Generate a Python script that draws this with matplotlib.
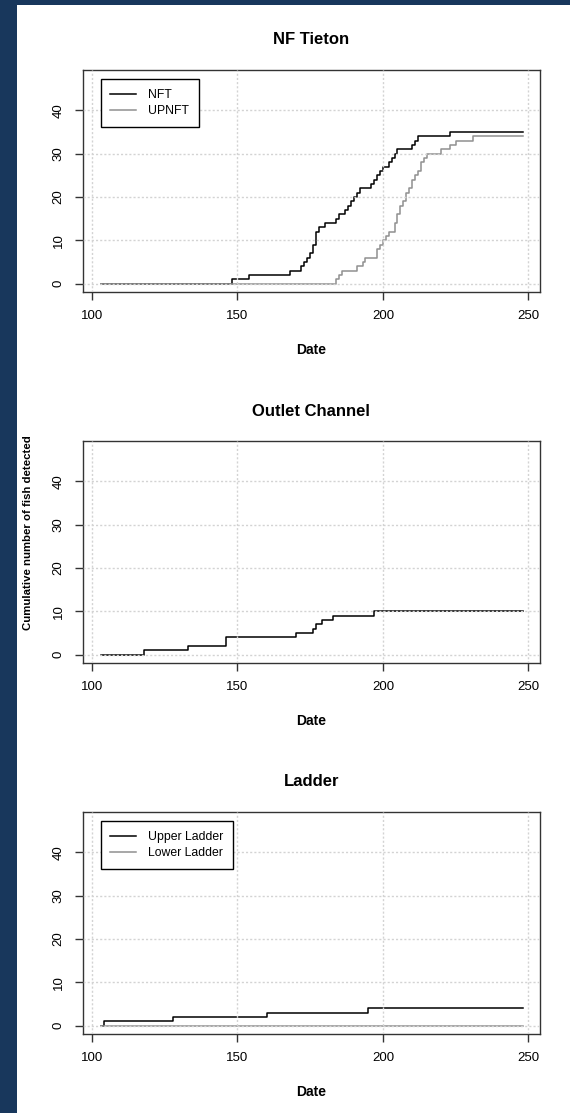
import matplotlib.pyplot as plt
from matplotlib.patches import Rectangle

# =========================================================
# DATA (cumulative detections by day of year)
# =========================================================

date_ticks = [100, 150, 200, 250]
count_ticks = [0, 10, 20, 30, 40]

# NF Tieton
nft_day = [103, 148, 154, 168, 172, 173, 174, 175, 176, 177, 178, 180, 184, 185,
           187, 188, 189, 190, 191, 192, 196, 197, 198, 199, 200, 202, 203, 204,
           205, 210, 211, 212, 223, 248]
nft_cum = [0, 1, 2, 3, 4, 5, 6, 7, 9, 12, 13, 14, 15, 16,
           17, 18, 19, 20, 21, 22, 23, 24, 25, 26, 27, 28, 29, 30,
           31, 32, 33, 34, 35, 35]

upnft_day = [103, 184, 185, 186, 191, 193, 194, 198, 199, 200, 201, 202, 204, 205,
             206, 207, 208, 209, 210, 211, 212, 213, 214, 215, 220, 223, 225, 231, 248]
upnft_cum = [0, 1, 2, 3, 4, 5, 6, 8, 9, 10, 11, 12, 14, 16,
             18, 19, 21, 22, 24, 25, 26, 28, 29, 30, 31, 32, 33, 34, 34]

# Outlet Channel
outlet_day = [103, 118, 133, 146, 170, 176, 177, 179, 183, 197, 248]
outlet_cum = [0, 1, 2, 4, 5, 6, 7, 8, 9, 10, 10]

# Ladder
upper_day = [103, 104, 128, 160, 195, 248]
upper_cum = [0, 1, 2, 3, 4, 4]
lower_day = [103, 248]
lower_cum = [0, 0]


# =========================================================
# FIGURE LAYOUT (pixel based)
# =========================================================

W, H = 570, 1113
plt.rcParams["font.family"] = ["Liberation Sans", "DejaVu Sans"]

fig = plt.figure(figsize=(W / 100, H / 100), dpi=100, facecolor="#18375c")
fig.patches.append(Rectangle((17 / W, 0), 1 - 17 / W, 1 - 5 / H,
                             transform=fig.transFigure, facecolor="white",
                             edgecolor="none", zorder=-10))

LEFT, RIGHT = 82.7, 540.0
panel_tops = [70, 441, 812]
PANEL_H = 221.5
x_mid = (LEFT + RIGHT) / 2
LW = 1.1


def make_axes(top):
    ax = fig.add_axes([LEFT / W, 1 - (top + PANEL_H) / H,
                       (RIGHT - LEFT) / W, PANEL_H / H])
    ax.set_xlim(96.8, 254.0)
    ax.set_ylim(-1.8, 49.25)
    ax.set_xticks(date_ticks)
    ax.set_yticks(count_ticks)
    # grid drawn on top of the lines, as in the original
    ax.grid(True, color="#d3d3d3", linestyle=(0, (1.5, 1.5)), linewidth=1.0)
    ax.set_axisbelow(False)
    for sp in ax.spines.values():
        sp.set_color("#333333")
        sp.set_linewidth(1.0)
    ax.tick_params(direction="out", length=6, width=1, color="#333333",
                   labelsize=9.5, pad=7)
    ax.tick_params(axis="y", labelrotation=90)
    for lbl in ax.get_yticklabels():
        lbl.set_va("center")
    return ax


def add_texts(top, title):
    fig.text(x_mid / W, 1 - (top - 30) / H, title, ha="center", va="center",
             fontsize=12, fontweight="bold")
    fig.text(x_mid / W, 1 - (top + 280) / H, "Date", ha="center", va="center",
             fontsize=10, fontweight="bold")


def add_legend(ax, handles, labels):
    leg = ax.legend(handles, labels, loc="upper left",
                    bbox_to_anchor=(18 / (RIGHT - LEFT), 1 - 9 / PANEL_H),
                    borderaxespad=0, fontsize=8.8, frameon=True, fancybox=False,
                    edgecolor="black", framealpha=1, handlelength=2.1,
                    handletextpad=1.0, labelspacing=0.35, borderpad=0.8)
    leg.get_frame().set_linewidth(1.0)


GRAY = "#909090"

# ---------------------------------------------------------
# Panel 1: NF Tieton
# ---------------------------------------------------------
ax1 = make_axes(panel_tops[0])
l1, = ax1.plot(nft_day, nft_cum, drawstyle="steps-post", color="black", lw=LW)
l2, = ax1.plot(upnft_day, upnft_cum, drawstyle="steps-post", color=GRAY, lw=LW)
add_legend(ax1, [l1, l2], ["NFT", "UPNFT"])
add_texts(panel_tops[0], "NF Tieton")

# ---------------------------------------------------------
# Panel 2: Outlet Channel
# ---------------------------------------------------------
ax2 = make_axes(panel_tops[1])
ax2.plot(outlet_day, outlet_cum, drawstyle="steps-post", color="black", lw=LW)
add_texts(panel_tops[1], "Outlet Channel")

# ---------------------------------------------------------
# Panel 3: Ladder
# ---------------------------------------------------------
ax3 = make_axes(panel_tops[2])
l3, = ax3.plot(upper_day, upper_cum, drawstyle="steps-post", color="black", lw=LW)
l4, = ax3.plot(lower_day, lower_cum, drawstyle="steps-post", color=GRAY, lw=LW)
add_legend(ax3, [l3, l4], ["Upper Ladder", "Lower Ladder"])
add_texts(panel_tops[2], "Ladder")

fig.text(28 / W, 1 - 533 / H, "Cumulative number of fish detected",
         rotation=90, ha="center", va="center", fontsize=8.2, fontweight="bold")

fig.savefig("out.png", dpi=100, facecolor=fig.get_facecolor())
